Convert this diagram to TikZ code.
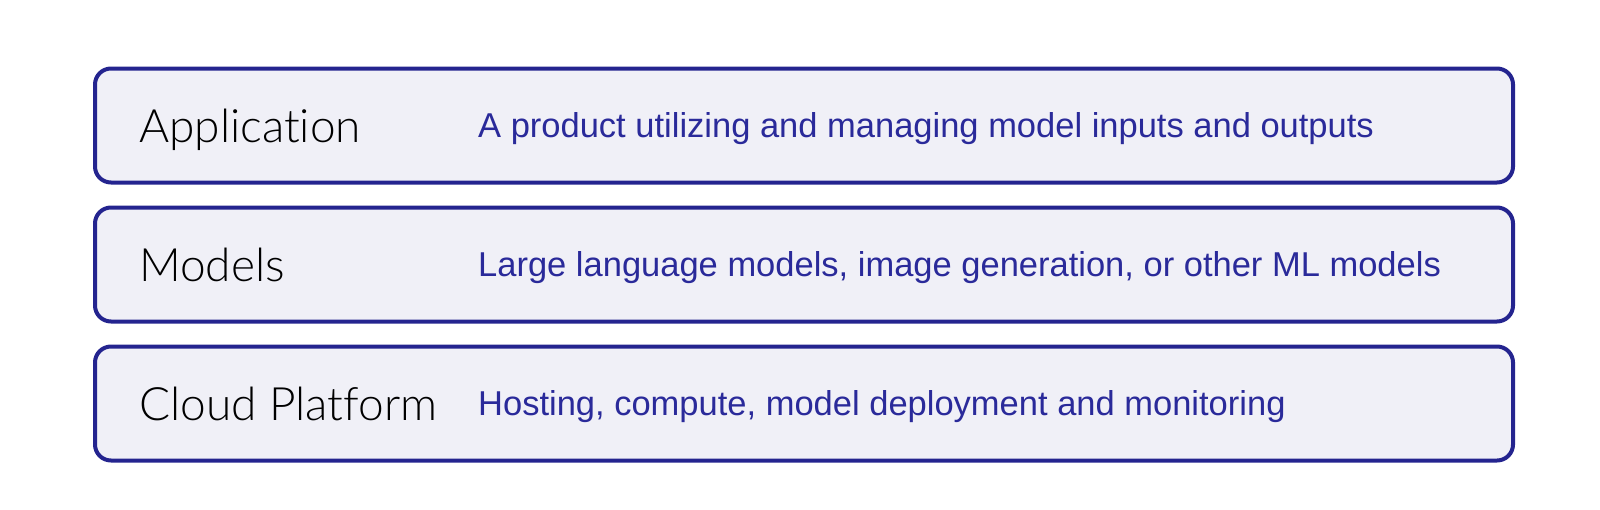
\documentclass[tikz,border=0pt]{standalone}
\usepackage{fontspec}
\setmainfont{Liberation Sans}
\newfontfamily\namefont{Lato Light}[Ligatures=NoCommon]
\usetikzlibrary{positioning,calc}
\definecolor{layerline}{HTML}{24248F}
\definecolor{layerfill}{HTML}{F0F0F7}
\definecolor{layertext}{HTML}{2A2A9A}
\tikzset{
  layer/.style={draw=layerline, fill=layerfill, line width=4pt, rounded corners=16pt,
    minimum width=1418pt, minimum height=114pt, inner sep=0pt},
  layername/.style={anchor=base west, inner sep=0pt, font=\namefont\fontsize{46}{52}\selectfont, text=black},
  layerdesc/.style={anchor=base west, inner sep=0pt, font=\fontsize{34.5}{40}\selectfont, text=layertext}
}
\begin{document}
\begin{tikzpicture}[x=1pt, y=-1pt]
    % page frame
    \useasboundingbox (0,0) rectangle (1600,509);

    % Three stacked layers
    \node[layer] (app) at (804,125.5) {};
    \node[layer] (models) at (804,264.5) {};
    \node[layer] (cloud) at (804,403.5) {};

    % Layer names at the left
    \node[layername] (appname) at ($(app.west)+(46,17)$) {Application};
    \node[layername] (modelsname) at ($(models.west)+(46,17)$) {Models};
    \node[layername] (cloudname) at ($(cloud.west)+(46,17)$) {Cloud Platform};

    % Descriptions
    \node[layerdesc] (appdesc) at ($(app.west)+(385,12)$) {A product utilizing and managing model inputs and outputs};
    \node[layerdesc] (modelsdesc) at ($(models.west)+(385,12)$) {Large language models, image generation, or other ML models};
    \node[layerdesc] (clouddesc) at ($(cloud.west)+(385,12)$) {Hosting, compute, model deployment and monitoring};

\end{tikzpicture}
\end{document}
